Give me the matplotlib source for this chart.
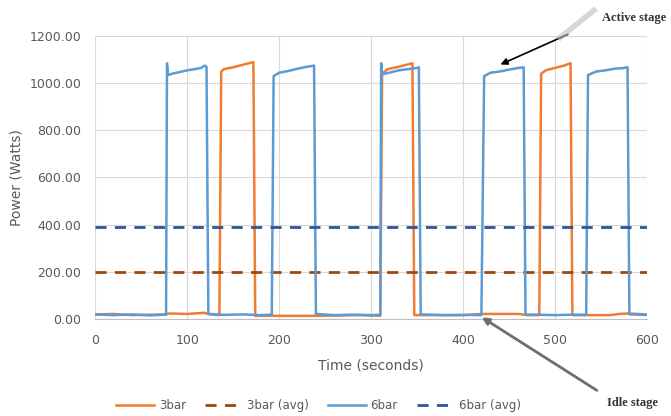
import matplotlib
matplotlib.use("Agg")
import matplotlib.pyplot as plt

# 6bar power trace (time s, power W)
t_6bar = [0, 20, 40, 60, 77,
          78, 79, 85, 92, 100, 108, 115, 119, 121, 123,
          140, 160, 180, 192,
          194, 200, 210, 220, 230, 238, 240,
          260, 280, 300, 310,
          311, 312, 320, 330, 340, 350, 352, 354,
          380, 400, 420,
          423, 430, 440, 450, 460, 466, 468,
          500, 520, 534,
          536, 545, 555, 565, 575, 579, 581,
          600]
p_6bar = [18, 15, 18, 14, 17,
          1085, 1035, 1042, 1048, 1055, 1060, 1065, 1075, 1070, 20,
          16, 18, 15, 17,
          1030, 1045, 1052, 1062, 1070, 1075, 20,
          15, 17, 15, 17,
          1085, 1038, 1045, 1055, 1060, 1065, 1068, 18,
          15, 16, 15,
          1030, 1045, 1050, 1058, 1065, 1068, 18,
          15, 17, 16,
          1035, 1050, 1055, 1062, 1065, 1068, 18,
          16]

# 3bar power trace
t_3bar = [0, 20, 40, 77, 80, 100, 119, 122, 135,
          137, 140, 150, 160, 170, 172, 174,
          240, 290, 310,
          312, 318, 330, 340, 345, 347,
          400, 420, 460, 470, 483,
          485, 490, 500, 510, 517, 519,
          560, 570, 580, 590, 600]
p_3bar = [18, 20, 15, 18, 22, 20, 25, 20, 15,
          1050, 1060, 1068, 1078, 1088, 1090, 12,
          12, 15, 12,
          1040, 1060, 1070, 1080, 1085, 15,
          15, 20, 20, 15, 15,
          1040, 1055, 1065, 1075, 1085, 15,
          15, 20, 22, 20, 18]

avg_3bar = 200
avg_6bar = 390

x_ticks = [0, 100, 200, 300, 400, 500, 600]
y_ticks = [0, 200, 400, 600, 800, 1000, 1200]

fig = plt.figure(figsize=(6.71, 4.16), dpi=100)
ax = fig.add_axes([0.142, 0.234, 0.822, 0.679])

ax.plot(t_3bar, p_3bar, color='#ED7D31', lw=1.8, label='3bar')
ax.plot([0, 600], [avg_3bar, avg_3bar], color='#9E480E', lw=2, ls=(0, (4, 3)), label='3bar (avg)')
ax.plot(t_6bar, p_6bar, color='#5B9BD5', lw=1.8, label='6bar')
ax.plot([0, 600], [avg_6bar, avg_6bar], color='#2F5597', lw=2, ls=(0, (4, 3)), label='6bar (avg)')

ax.set_xlim(0, 600)
ax.set_ylim(0, 1200)
ax.set_xticks(x_ticks)
ax.set_yticks(y_ticks)
ax.set_yticklabels(['%.2f' % v for v in y_ticks])
ax.grid(True, color='#D9D9D9', lw=0.8)
ax.set_axisbelow(True)
for s in ['top', 'right', 'left']:
    ax.spines[s].set_visible(False)
ax.spines['bottom'].set_color('#BFBFBF')
ax.tick_params(length=0, labelsize=9, colors='#595959')
ax.tick_params(axis='x', pad=11)
ax.tick_params(axis='y', pad=10)

ax.set_xlabel('Time (seconds)', fontsize=10, color='#595959', labelpad=8)
ax.set_ylabel('Power (Watts)', fontsize=10, color='#595959')

fig.legend(loc='center', bbox_to_anchor=(0.475, 0.026), ncol=4, frameon=False,
           fontsize=8.5, labelcolor='#595959', handlelength=3.2, handletextpad=0.4,
           columnspacing=1.6)

# annotations
fig.add_artist(plt.Line2D([0.835, 0.885], [0.91, 0.975], color='#BBBBBB', lw=4,
                          alpha=0.6, transform=fig.transFigure))
ax.annotate('', xy=(438, 1075), xytext=(0.85, 0.92), textcoords='figure fraction',
            arrowprops=dict(arrowstyle='-|>', color='black', lw=1.2))
fig.text(0.897, 0.957, 'Active stage', fontsize=9, family='Liberation Serif',
         fontweight='bold', color='#333333', va='center')
ax.annotate('', xy=(418, 12), xytext=(0.893, 0.058), textcoords='figure fraction',
            arrowprops=dict(arrowstyle='-|>', color='#6E6E6E', lw=2))
fig.text(0.905, 0.031, 'Idle stage', fontsize=9, family='Liberation Serif',
         fontweight='bold', color='#333333', va='center')

fig.savefig('out.png', dpi=100)
